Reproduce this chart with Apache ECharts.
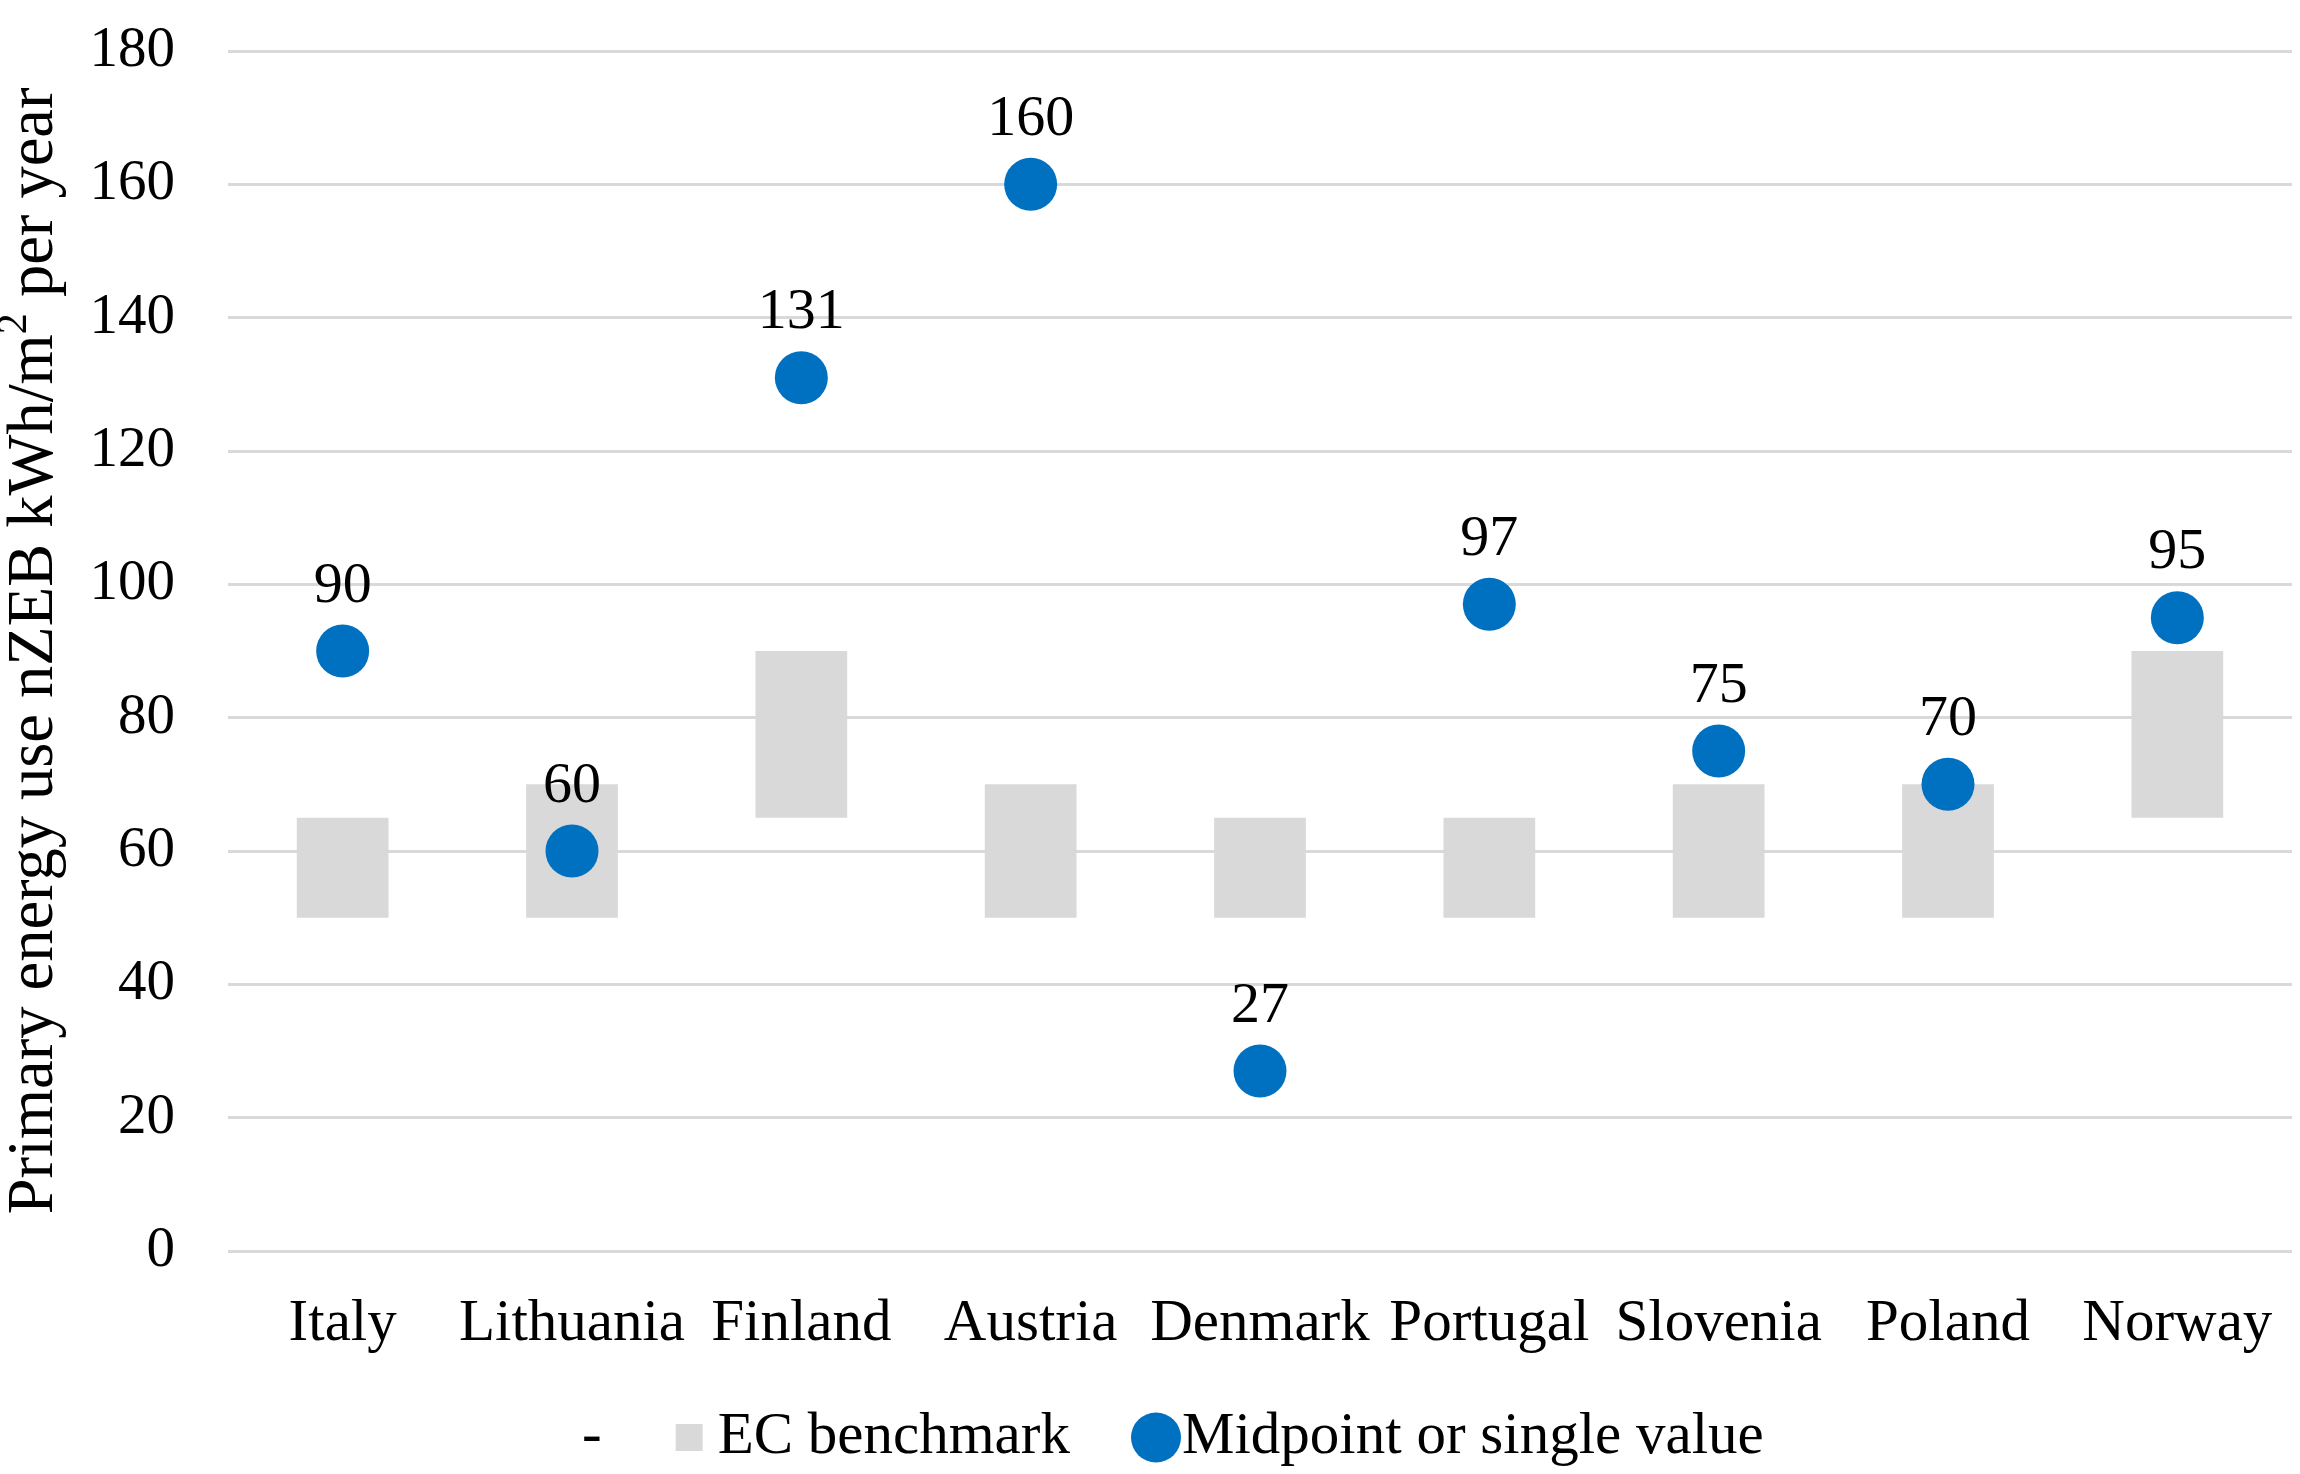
<!DOCTYPE html>
<html><head><meta charset="utf-8">
<script src="https://cdn.jsdelivr.net/npm/echarts@6/dist/echarts.min.js"></script>
<style>html,body{margin:0;padding:0;background:#fff}#c{width:2300px;height:1474px}</style>
</head><body><div id="c"></div>
<script>
const categories = ['Italy','Lithuania','Finland','Austria','Denmark','Portugal','Slovenia','Poland','Norway'];
const ecLow  = [50,50,65,50,50,50,50,50,65];
const ecHigh = [65,70,90,70,65,65,70,70,90];
const midpoint = [90,60,131,160,27,97,75,70,95];
const yTicks = {min:0,max:180,interval:20};

const F = '"Liberation Serif","Times New Roman",serif';
const FS = 57, FT = 59;
const chart = echarts.init(document.getElementById('c'), null, {renderer:'canvas'});
const range = ecHigh.map((h,i)=>h-ecLow[i]);
chart.setOption({
  animation:false,
  backgroundColor:'#fff',
  textStyle:{fontFamily:F,color:'#000'},
  grid:{left:228,right:8,top:51,bottom:223,containLabel:false,outerBoundsMode:'none'},
  legend:[{
    left:535, top:1403, itemGap:74, itemWidth:27, itemHeight:27,
    textStyle:{fontFamily:F,fontSize:FT,color:'#000',padding:[0,0,0,10]},
    data:[{name:'-',icon:'rect',itemStyle:{color:'rgba(0,0,0,0)'}},{name:'EC benchmark',icon:'rect'}]
  },{
    left:1126, top:1403, itemWidth:50, itemHeight:50,
    textStyle:{fontFamily:F,fontSize:FT,color:'#000',padding:[0,0,0,-4]},
    data:[{name:'Midpoint or single value',icon:'circle'}]
  }],
  xAxis:{type:'category',data:categories,
    axisLine:{show:false},axisTick:{show:false},
    axisLabel:{fontFamily:F,fontSize:FT,color:'#000',margin:44,interval:0}},
  yAxis:{type:'value',min:yTicks.min,max:yTicks.max,interval:yTicks.interval,
    name:'{t|Primary energy use nZEB kWh/m}{s|2}{t| per year}',nameLocation:'middle',nameGap:160,
    nameTextStyle:{fontFamily:F,fontSize:64.5,color:'#000',
      rich:{t:{fontFamily:F,fontSize:64.5,color:'#000',lineHeight:74,verticalAlign:'bottom'},
            s:{fontFamily:F,fontSize:42,color:'#000',lineHeight:74,verticalAlign:'top',padding:[0,0,22,0]}}},
    axisLine:{show:false},axisTick:{show:false},
    axisLabel:{fontFamily:F,fontSize:FS,color:'#000',margin:53},
    splitLine:{lineStyle:{color:'#d9d9d9',width:3}}},
  series:[
    {name:'-',type:'bar',stack:'ec',data:ecLow,barWidth:'40%',itemStyle:{color:'rgba(0,0,0,0)'},silent:true},
    {name:'EC benchmark',type:'bar',stack:'ec',data:range,barWidth:'40%',itemStyle:{color:'#d9d9d9'}},
    {name:'Midpoint or single value',type:'scatter',data:midpoint,symbol:'circle',symbolSize:53,
      itemStyle:{color:'#0070c0',opacity:1},z:5,
      label:{show:true,position:'top',distance:9,fontFamily:F,fontSize:58,color:'#000',opacity:1}}
  ]
});
</script></body></html>
